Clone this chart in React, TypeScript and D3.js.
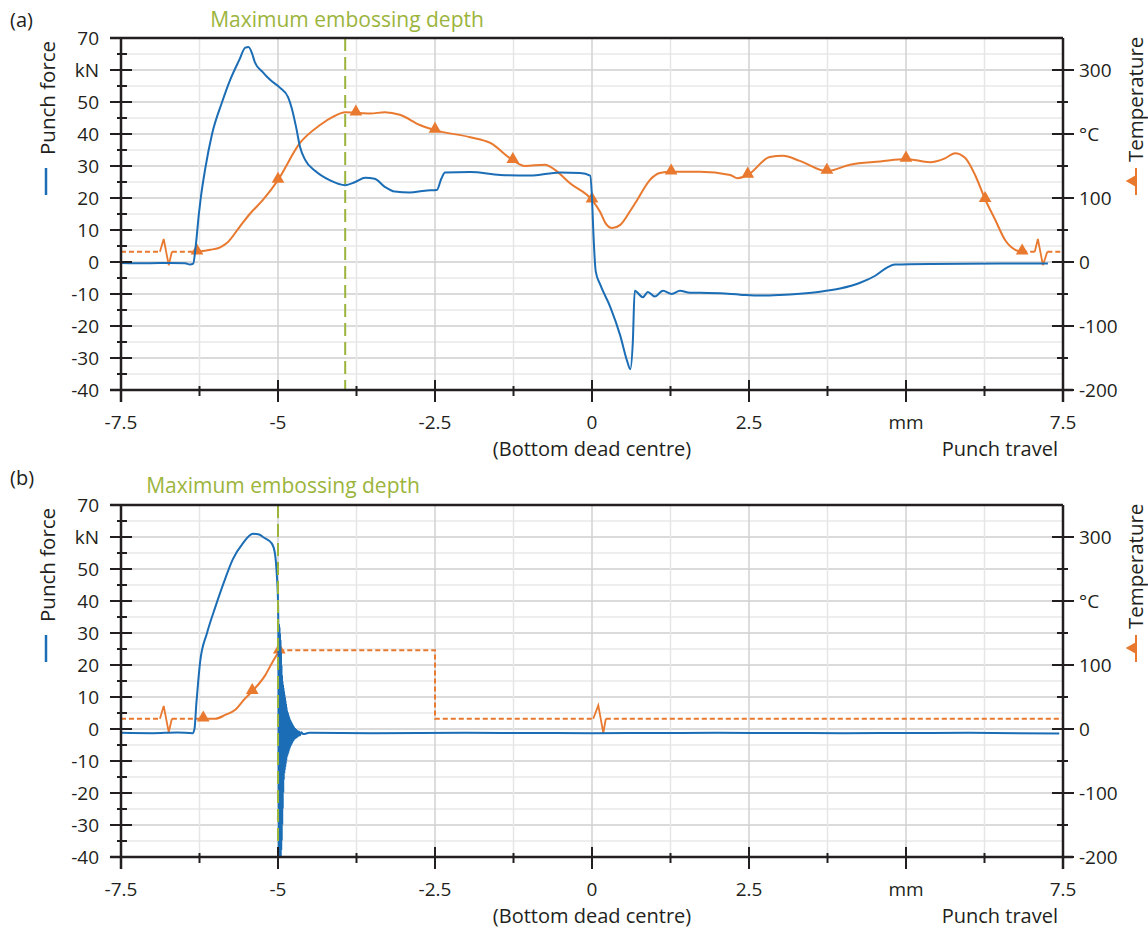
import React from 'react';
import * as d3 from 'd3';

// x in mm, force in kN, temperature in °C
const xMajor = [-7.5, -5, -2.5, 0, 2.5, 5, 7.5];
const xLabels = ['-7.5', '-5', '-2.5', '0', '2.5', 'mm', '7.5'];
const xMinor = [-6.25, -3.75, -1.25, 1.25, 3.75, 6.25];
const forceMajor = [70, 60, 50, 40, 30, 20, 10, 0, -10, -20, -30, -40];
const forceLabels = ['70', 'kN', '50', '40', '30', '20', '10', '0', '-10', '-20', '-30', '-40'];
const forceMinor = [65, 55, 45, 35, 25, 15, 5, -5, -15, -25, -35];
const tempMajor = [300, 200, 100, 0, -100, -200];
const tempLabels = ['300', '°C', '100', '0', '-100', '-200'];
const tempMinor = [250, 150, 50, -50, -150];

const embossA = -3.93;
const embossB = -5.0;

const forceA: [number, number][] = [
  [-7.5, -0.3], [-7.04, -0.4], [-6.72, -0.3], [-6.48, -0.4], [-6.4, -0.8], [-6.35, -0.5],
  [-6.31, 5], [-6.26, 15], [-6.23, 20], [-6.16, 29], [-6.05, 40], [-5.89, 50], [-5.76, 57],
  [-5.62, 63], [-5.52, 67], [-5.47, 67.2], [-5.41, 65], [-5.37, 62.5], [-5.25, 59.5],
  [-5.13, 57], [-4.97, 54.5], [-4.84, 51.5], [-4.78, 48], [-4.71, 42], [-4.65, 36],
  [-4.57, 32], [-4.41, 28.5], [-4.17, 25.5], [-3.93, 24], [-3.77, 25], [-3.61, 26.3],
  [-3.46, 26], [-3.3, 23.5], [-3.14, 22], [-2.9, 21.7], [-2.66, 22.3], [-2.47, 22.5],
  [-2.4, 26], [-2.34, 28], [-1.94, 28.1], [-1.46, 27.2], [-0.99, 27], [-0.51, 28],
  [-0.19, 27.8], [-0.03, 27], [0, 20], [0.02, 10], [0.06, -3], [0.13, -7], [0.29, -14],
  [0.45, -23], [0.56, -31], [0.61, -33.5], [0.65, -25], [0.68, -9], [0.81, -11], [0.89, -9.4],
  [1.0, -10.8], [1.13, -9], [1.27, -10], [1.4, -9], [1.56, -9.6], [1.72, -9.6], [2.04, -9.8],
  [2.36, -10.2], [2.68, -10.5], [2.99, -10.3], [3.31, -9.9], [3.63, -9.3], [3.95, -8.3],
  [4.27, -6.5], [4.51, -4.3], [4.71, -1.6], [4.82, -0.8], [5.38, -0.6], [6.5, -0.5], [7.26, -0.5],
];

const tempA: [number, number][] = [
  [-6.29, 16], [-6.08, 19], [-5.92, 23], [-5.81, 30], [-5.61, 55], [-5.45, 75], [-5.24, 97],
  [-5.0, 128], [-4.65, 186], [-4.33, 214], [-4.12, 227], [-3.93, 234], [-3.76, 233],
  [-3.53, 232], [-3.3, 234], [-3.06, 230], [-2.74, 214], [-2.5, 206], [-1.94, 195],
  [-1.62, 186], [-1.26, 159], [-1.07, 150], [-0.75, 152], [-0.59, 144], [-0.35, 123],
  [0, 97], [0.13, 78], [0.22, 60], [0.32, 53], [0.45, 58], [0.61, 80], [0.72, 97],
  [0.92, 128], [1.08, 139], [1.26, 141], [1.72, 141], [2.2, 136], [2.32, 131], [2.48, 136],
  [2.83, 164], [3.04, 166], [3.31, 158], [3.74, 142], [4.11, 152], [4.59, 157], [5.0, 161],
  [5.38, 156], [5.62, 162], [5.78, 170], [5.94, 163], [6.1, 136], [6.26, 98], [6.42, 66],
  [6.58, 34], [6.74, 19], [6.85, 16],
];
const tempAMarks: [number, number][] = [
  [-6.29, 16], [-5.0, 128], [-3.76, 233], [-2.5, 206], [-1.26, 159], [0, 97],
  [1.26, 141], [2.48, 136], [3.74, 142], [5.0, 161], [6.26, 98], [6.85, 16],
];
const tempADashed: [number, number][][] = [
  [[-7.5, 16], [-6.88, 16]], [[-6.69, 16], [-6.29, 16]],
  [[6.85, 16], [7.05, 16]], [[7.25, 16], [7.5, 16]],
];
const tempABreaks: [number, number][][] = [
  [[-6.88, 16], [-6.82, 36], [-6.74, -5], [-6.69, 16]],
  [[7.05, 16], [7.1, 36], [7.18, -5], [7.25, 16]],
];

const forceB: [number, number][] = [
  [-7.5, -1.2], [-7.0, -1.3], [-6.6, -1.1], [-6.36, -1.3], [-6.33, 0], [-6.3, 8], [-6.27, 15],
  [-6.24, 21], [-6.13, 30], [-6.0, 38], [-5.84, 47], [-5.72, 53], [-5.56, 58], [-5.4, 61],
  [-5.3, 60.8], [-5.24, 60], [-5.1, 58], [-5.05, 55], [-5.02, 48.5], [-5.0, 40],
  // ringing after the punch breaks through
  [-4.992, 25], [-4.988, -40], [-4.984, 33], [-4.98, -40], [-4.976, 32], [-4.972, -40],
  [-4.968, 30], [-4.964, -40], [-4.96, 28], [-4.956, -40], [-4.952, 24], [-4.948, -38],
  [-4.944, 20], [-4.94, -35], [-4.936, 17], [-4.932, -30], [-4.928, 15], [-4.924, -25],
  [-4.92, 14], [-4.916, -20], [-4.912, 13], [-4.908, -16], [-4.904, 12], [-4.9, -14],
  [-4.896, 11], [-4.892, -13], [-4.888, 10], [-4.884, -12], [-4.88, 9], [-4.876, -11],
  [-4.872, 8], [-4.868, -10], [-4.864, 7], [-4.86, -9], [-4.856, 6], [-4.852, -8.5],
  [-4.848, 5.5], [-4.844, -8], [-4.84, 5], [-4.836, -7.5], [-4.832, 4.5], [-4.828, -7],
  [-4.824, 4], [-4.82, -6.5], [-4.816, 3.5], [-4.812, -6], [-4.806, 3], [-4.8, -5.5],
  [-4.794, 2.5], [-4.788, -5], [-4.782, 2], [-4.776, -4.5], [-4.77, 1.5], [-4.764, -4],
  [-4.756, 1], [-4.748, -3.5], [-4.74, 0.5], [-4.732, -3], [-4.724, 0], [-4.716, -2.8],
  [-4.706, -0.3], [-4.696, -2.5], [-4.686, -0.6], [-4.676, -2.2], [-4.664, -0.8], [-4.65, -2],
  [-4.63, -1], [-4.6, -1.6], [-4.5, -1.2],
  [-3.5, -1.3], [-2.0, -1.2], [0, -1.3], [2.0, -1.2], [4.0, -1.3], [6.0, -1.2], [7.44, -1.4],
];
const tempB: [number, number][] = [
  [-6.19, 16], [-6.0, 16], [-5.84, 22], [-5.68, 30], [-5.53, 47], [-5.41, 59],
  [-5.21, 83], [-5.08, 106], [-4.98, 122],
];
const tempBMarks: [number, number][] = [[-6.19, 16], [-5.41, 59], [-4.98, 122]];
const tempBDashed: [number, number][][] = [
  [[-7.5, 16], [-6.88, 16]], [[-6.69, 16], [-6.19, 16]],
  [[-4.98, 123], [-2.5, 123], [-2.5, 16], [0.02, 16]], [[0.22, 16], [7.5, 16]],
];
const tempBBreaks: [number, number][][] = [
  [[-6.88, 16], [-6.82, 36], [-6.74, -5], [-6.69, 16]],
  [[0.02, 16], [0.1, 37], [0.18, -6], [0.22, 16]],
];

const BLUE = '#1b6db5';
const ORANGE = '#e8792f';
const GREEN = '#9bb43c';
const INK = '#231f20';
const FONT = '"Open Sans", sans-serif';

const x = d3.scaleLinear().domain([-7.5, 7.5]).range([121, 1063]);

type PanelProps = {
  top: number; label: string; labelY: number; titleX: number; titleY: number; emboss: number;
  force: [number, number][]; temp: [number, number][]; marks: [number, number][];
  dashed: [number, number][][]; breaks: [number, number][][];
};

function Panel(p: PanelProps) {
  const bottom = p.top + 352;
  const yF = d3.scaleLinear().domain([-40, 70]).range([bottom, p.top]);
  const yT = d3.scaleLinear().domain([-200, 350]).range([bottom, p.top]);
  const lineF = d3.line<[number, number]>().x(d => x(d[0])).y(d => yF(d[1])).curve(d3.curveMonotoneX);
  const lineT = d3.line<[number, number]>().x(d => x(d[0])).y(d => yT(d[1])).curve(d3.curveMonotoneX);
  const lineTL = d3.line<[number, number]>().x(d => x(d[0])).y(d => yT(d[1]));
  const tri = d3.symbol().type(d3.symbolTriangle).size(70)();
  const gridY = d3.range(-40, 71, 5);
  const gridX = d3.range(-7.5, 7.51, 1.25);
  return (
    <g>
      {gridY.map(v => (
        <line key={'gy' + v} x1={121} x2={1063} y1={yF(v)} y2={yF(v)}
          stroke={v % 10 === 0 ? '#cfcfcf' : '#e9e9e9'} strokeWidth={1.5} />
      ))}
      {gridX.map(v => (
        <line key={'gx' + v} x1={x(v)} x2={x(v)} y1={p.top} y2={bottom}
          stroke={Math.abs(v % 2.5) < 1e-6 ? '#d2d2d2' : '#e6e6e6'} strokeWidth={1.5} />
      ))}
      {p.dashed.map((s, i) => (
        <path key={'d' + i} d={lineTL(s) || ''} fill="none" stroke={ORANGE} strokeWidth={2} strokeDasharray="5 3" />
      ))}
      {p.breaks.map((s, i) => (
        <path key={'b' + i} d={lineTL(s) || ''} fill="none" stroke={ORANGE} strokeWidth={1.8} />
      ))}
      <path d={lineT(p.temp) || ''} fill="none" stroke={ORANGE} strokeWidth={2} />
      {p.marks.map((m, i) => (
        <path key={'m' + i} d={tri || ''} transform={`translate(${x(m[0])},${yT(m[1]) - 1})`} fill={ORANGE} />
      ))}
      <path d={lineF(p.force) || ''} fill="none" stroke={BLUE} strokeWidth={2} strokeLinejoin="round" />
      <line x1={x(p.emboss)} x2={x(p.emboss)} y1={p.top} y2={bottom}
        stroke={GREEN} strokeWidth={2} strokeDasharray="13 6" />

      {/* frame */}
      <line x1={110} x2={1063} y1={p.top} y2={p.top} stroke={INK} strokeWidth={2.5} />
      <line x1={121} x2={121} y1={p.top} y2={bottom + 12} stroke={INK} strokeWidth={2.5} />
      <line x1={1063} x2={1063} y1={p.top} y2={bottom + 12} stroke={INK} strokeWidth={2.5} />
      <line x1={110} x2={1073} y1={bottom} y2={bottom} stroke={INK} strokeWidth={2.5} />

      {forceMajor.map((v, i) => (
        <g key={'fl' + v}>
          <line x1={110} x2={132} y1={yF(v)} y2={yF(v)} stroke={INK} strokeWidth={2} />
          <text x={99} y={yF(v)} textAnchor="end" dominantBaseline="central" fontSize={19} fill={INK}>{forceLabels[i]}</text>
        </g>
      ))}
      {forceMinor.map(v => (
        <line key={'fm' + v} x1={117} x2={127} y1={yF(v)} y2={yF(v)} stroke={INK} strokeWidth={2} />
      ))}
      {tempMajor.map((v, i) => (
        <g key={'tl' + v}>
          <line x1={1052} x2={1074} y1={yT(v)} y2={yT(v)} stroke={INK} strokeWidth={2} />
          <text x={1079} y={yT(v)} dominantBaseline="central" fontSize={19} fill={INK}>{tempLabels[i]}</text>
        </g>
      ))}
      {tempMinor.map(v => (
        <line key={'tm' + v} x1={1057} x2={1068} y1={yT(v)} y2={yT(v)} stroke={INK} strokeWidth={2} />
      ))}
      {xMajor.map((v, i) => (
        <g key={'xl' + v}>
          <line x1={x(v)} x2={x(v)} y1={bottom - 10} y2={bottom + 12} stroke={INK} strokeWidth={2} />
          <text x={x(v)} y={bottom + 39} textAnchor="middle" fontSize={19} fill={INK}>{xLabels[i]}</text>
        </g>
      ))}
      {xMinor.map(v => (
        <line key={'xm' + v} x1={x(v)} x2={x(v)} y1={bottom - 4} y2={bottom + 6} stroke={INK} strokeWidth={2} />
      ))}
      <text x={x(0)} y={bottom + 66} textAnchor="middle" fontSize={20} fill={INK}>(Bottom dead centre)</text>
      <text x={1058} y={bottom + 66} textAnchor="end" fontSize={20} fill={INK}>Punch travel</text>

      {/* axis titles with legend keys */}
      <text transform={`translate(47,${p.top + 117}) rotate(-90)`} dominantBaseline="central" fontSize={20.5} fill={INK}>Punch force</text>
      <line x1={46} x2={46} y1={p.top + 130} y2={p.top + 157} stroke={BLUE} strokeWidth={2.5} />
      <text transform={`translate(1135,${p.top + 124}) rotate(-90)`} dominantBaseline="central" fontSize={20.5} fill={INK}>Temperature</text>
      <line x1={1136} x2={1136} y1={p.top + 130} y2={p.top + 157} stroke={ORANGE} strokeWidth={2} />
      <path d={tri || ''} transform={`translate(1133,${p.top + 143}) rotate(-90)`} fill={ORANGE} />

      <text x={10} y={p.labelY} fontSize={20} fill={INK}>{p.label}</text>
      <text x={p.titleX} y={p.titleY} textAnchor="middle" fontSize={21} fill={GREEN}>Maximum embossing depth</text>
    </g>
  );
}

export default function App() {
  return (
    <svg width={1148} height={928} style={{ position: 'absolute', left: 0, top: 0, background: '#fff' }} fontFamily={FONT}>
      <Panel top={38} label="(a)" labelY={27} titleX={347} titleY={27} emboss={embossA}
        force={forceA} temp={tempA} marks={tempAMarks} dashed={tempADashed} breaks={tempABreaks} />
      <Panel top={505} label="(b)" labelY={485} titleX={283} titleY={493} emboss={embossB}
        force={forceB} temp={tempB} marks={tempBMarks} dashed={tempBDashed} breaks={tempBBreaks} />
    </svg>
  );
}
